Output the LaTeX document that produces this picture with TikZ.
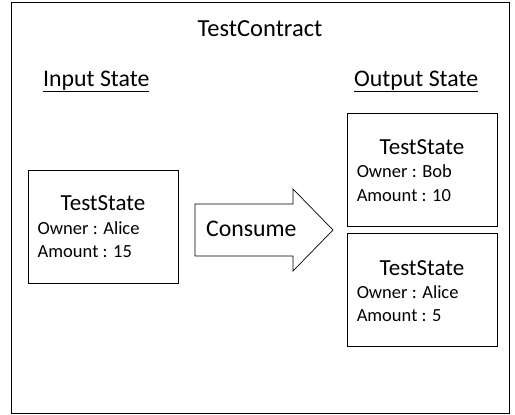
\documentclass[tikz,border=0pt]{standalone}
\usepackage{fontspec}
\setmainfont{Carlito}
\usetikzlibrary{positioning,shapes.arrows}

\tikzset{
    statebox/.style = {draw, line width=0.9pt, minimum width=150pt, minimum height=113pt, inner sep=0pt},
    heading/.style = {font=\fontsize{23}{27}\selectfont, anchor=base, inner sep=0pt},
    field/.style = {font=\fontsize{18.5}{22}\selectfont, anchor=base west, inner sep=0pt},
    caption/.style = {font=\fontsize{23.8}{28}\selectfont, anchor=base, inner sep=0pt}
}

\begin{document}
\begin{tikzpicture}[x=1pt, y=-1pt, node distance = 10pt]
        \useasboundingbox (0,0) rectangle (515,415);
        \draw [line width=0.9pt] (11,2) rectangle (509,413);

        \node [caption, font=\fontsize{24.5}{28}\selectfont] (contract) at (260,36) {TestContract};
        \node [caption, anchor=base west] (intitle) at (43,86) {\underline{Input State}};
        \node [caption, anchor=base west] (outtitle) at (354,86) {\underline{Output State}};

        % input state
        \node [statebox] (inbox) at (103,226.5) {};
        \node [heading] (inname) at ([yshift=-41pt]inbox.north) {TestState};
        \node [field] (inowner) at ([xshift=10pt, yshift=-65pt]inbox.north west) {Owner : Alice};
        \node [field] (inamount) at ([xshift=10pt, yshift=-88pt]inbox.north west) {Amount : 15};

        % output states
        \node [statebox] (outbob) at (422,169.5) {};
        \node [heading] (bobname) at ([yshift=-42pt]outbob.north) {TestState};
        \node [field] (bobowner) at ([xshift=10pt, yshift=-65pt]outbob.north west) {Owner : Bob};
        \node [field] (bobamount) at ([xshift=10pt, yshift=-89pt]outbob.north west) {Amount : 10};

        \node [statebox, below = 7pt of outbob] (outalice) {};
        \node [heading] (alicename) at ([yshift=-42pt]outalice.north) {TestState};
        \node [field] (aliceowner) at ([xshift=10pt, yshift=-65pt]outalice.north west) {Owner : Alice};
        \node [field] (aliceamount) at ([xshift=10pt, yshift=-88pt]outalice.north west) {Amount : 5};

        % consume arrow
        \draw [line width=0.7pt] (195,204) -- (293,204) -- (293,189) -- (333,230)
            -- (293,271) -- (293,256) -- (195,256) -- cycle;
        \node [caption, anchor=base west] (consume) at (206,236) {Consume};
    \end{tikzpicture}
\end{document}
